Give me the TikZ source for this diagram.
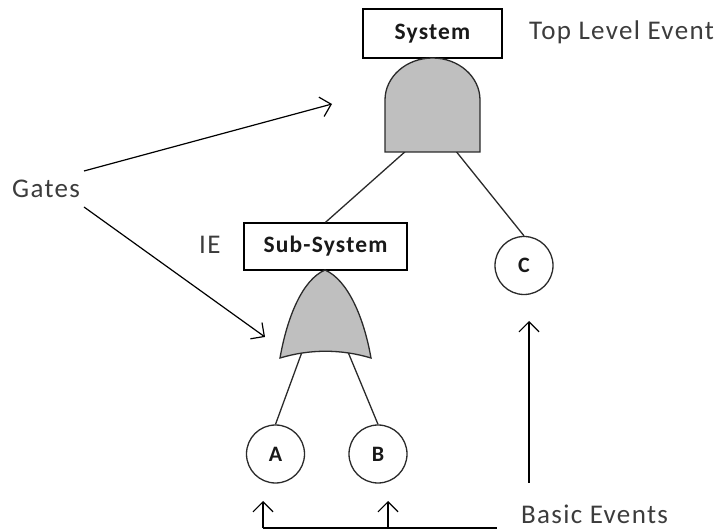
\documentclass[tikz,border=0pt]{standalone}
\usepackage{fontspec}
\setmainfont{Carlito}[LetterSpace=5]
\usetikzlibrary{arrows.meta}
\definecolor{gatefill}{HTML}{BFBFBF}
\definecolor{ink}{HTML}{2A2A2A}
\definecolor{labelink}{HTML}{3C3C3C}
\begin{document}
\begin{tikzpicture}[x=1pt,y=-1pt,
  conn/.style={draw=ink, line width=1.3pt},
  ptr/.style={draw=black, line width=1.2pt,
    -{Straight Barb[length=10pt,width=20pt,line width=1.2pt]}},
  gatebody/.style={draw=ink, line width=1.3pt, fill=gatefill},
  evbox/.style={draw=black, line width=1.3pt, fill=white, inner sep=0pt,
    text=black!90, font=\fontsize{23.5}{26}\selectfont\bfseries},
  basic/.style={circle, draw=ink, line width=1.3pt, fill=white, inner sep=0pt,
    minimum size=58pt, text=black!90, font=\fontsize{22}{24}\selectfont\bfseries},
  note/.style={anchor=base west, inner sep=0pt, text=labelink,
    font=\fontsize{27}{30}\selectfont}
]
\useasboundingbox (0,0) rectangle (721,529);

% events
\node[evbox, minimum width=139pt, minimum height=49pt] (sys) at (432.5,33.5) {System};
\node[evbox, minimum width=163pt, minimum height=47pt] (sub) at (325.5,246.5) {Sub-System};
\node[basic] (c) at (524,265.5) {C};
\node[basic] (a) at (275.5,454) {A};
\node[basic] (b) at (378,454) {B};

% gate outputs
\coordinate (andL) at (407,150);
\coordinate (andR) at (455,150);
\coordinate (orL) at (302,352);
\coordinate (orR) at (348,352);

% connectors below the gates
\draw[conn] (andL) -- (sub.north);
\draw[conn] (andR) -- (c.north);
\draw[conn] (orL) -- (a.north);
\draw[conn] (orR) -- (b.north);

% AND gate (y axis points down, so the dome runs from 180 to 360 degrees)
\draw[gatebody] (385,152) -- (385,100) arc[start angle=180, end angle=360,
  x radius=47.5, y radius=42] -- (480,152) -- cycle;

% OR gate
\draw[gatebody] (325,270) .. controls (302,280) and (287,318) .. (280,358)
  .. controls (310,349) and (341,349) .. (371,358)
  .. controls (364,318) and (348,280) .. (325,270) -- cycle;

% labels
\node[note] (tle) at (529,40) {Top Level Event};
\node[note] (gates) at (12,198) {Gates};
\node[note] (ie) at (199,254) {IE};
\node[note] (be) at (521,523) {Basic Events};

% pointers from "Gates"
\coordinate (g1s) at (84,171);
\coordinate (g1e) at (332,104);
\coordinate (g2s) at (84,207);
\coordinate (g2e) at (265,337);
\draw[ptr] (g1s) -- (g1e);
\draw[ptr] (g2s) -- (g2e);

% pointers to basic events
\coordinate (busL) at (263,528);
\coordinate (busM) at (388,528);
\coordinate (busR) at (497,528);
\coordinate (tipA) at (263,501);
\coordinate (tipB) at (388,501);
\coordinate (cs) at (529,483);
\coordinate (ce) at (529,321);
\draw[draw=black, line width=1.2pt] (busL) -- (busR);
\draw[ptr] (busL) -- (tipA);
\draw[ptr] (busM) -- (tipB);
\draw[ptr] (cs) -- (ce);
\end{tikzpicture}
\end{document}
